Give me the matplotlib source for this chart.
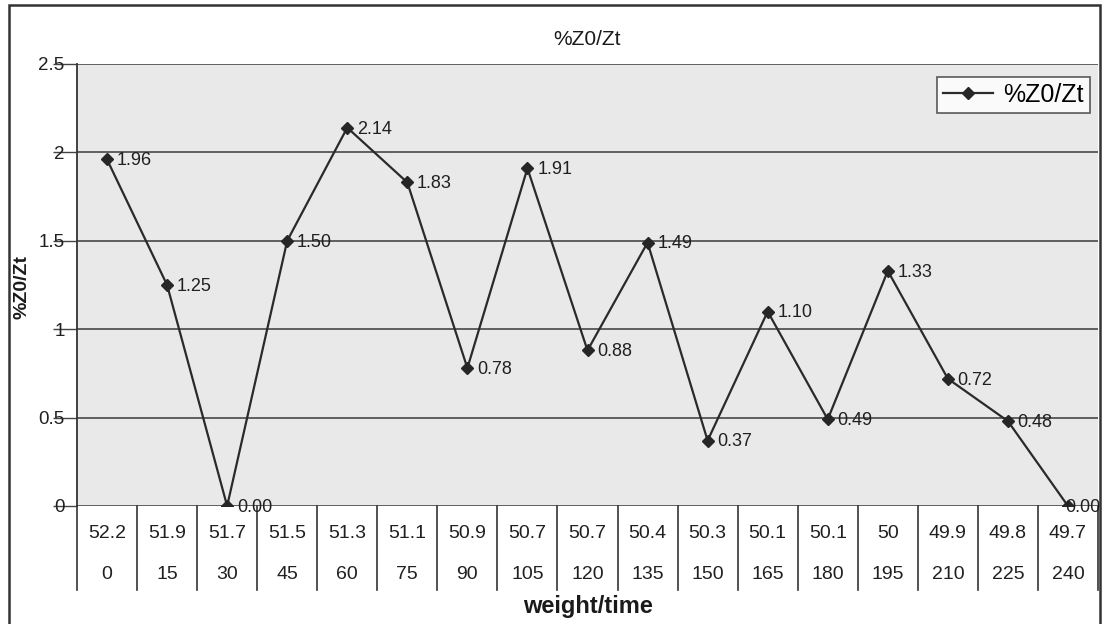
import matplotlib
matplotlib.use("Agg")
import matplotlib.pyplot as plt
import matplotlib.transforms as mtransforms
from matplotlib.patches import Rectangle
import numpy as np

# Datos
weights = ['52.2', '51.9', '51.7', '51.5', '51.3', '51.1', '50.9', '50.7', '50.7',
           '50.4', '50.3', '50.1', '50.1', '50', '49.9', '49.8', '49.7']
times = ['0', '15', '30', '45', '60', '75', '90', '105', '120',
         '135', '150', '165', '180', '195', '210', '225', '240']
z_ratio = [1.96, 1.25, 0.00, 1.50, 2.14, 1.83, 0.78, 1.91, 0.88,
           1.49, 0.37, 1.10, 0.49, 1.33, 0.72, 0.48, 0.00]

plt.rcParams['font.family'] = ['Liberation Sans', 'DejaVu Sans']

fig = plt.figure(figsize=(11.02, 6.24), dpi=100)
ax = fig.add_axes([77 / 1102, 118 / 624, 1021 / 1102, 442 / 624])
ax.set_facecolor('#e9e9e9')

n = len(z_ratio)
xs = np.arange(n)

# Líneas de cuadrícula horizontales
for yv in np.arange(0, 2.51, 0.5):
    ax.axhline(yv, color='#3a3a3a', lw=1.1, zorder=1)

ax.plot(xs, z_ratio, color='#2a2a2a', lw=1.6, marker='D', markersize=6.5,
        markerfacecolor='#262626', markeredgecolor='#262626', zorder=3,
        label='%Z0/Zt')

# Etiquetas de valores (la última se corre para no salirse del marco)
for xi, v in zip(xs, z_ratio):
    dx = 7 if xi < n - 1 else -2
    ax.annotate(f'{v:.2f}', (xi, v), xytext=(dx, -1), textcoords='offset points',
                ha='left', va='center', fontsize=13, color='#202020', zorder=4,
                annotation_clip=False)

ax.set_xlim(-0.5, n - 0.5)
ax.set_ylim(0, 2.5)
ax.set_yticks(np.arange(0, 2.51, 0.5))
ax.set_yticklabels(['0', '0.5', '1', '1.5', '2', '2.5'])
ax.tick_params(axis='y', length=17, width=1, color='#444444', pad=-8,
               labelsize=13.5, labelcolor='#202020')
ax.set_xticks([])

for side in ['top', 'right', 'bottom']:
    ax.spines[side].set_visible(False)
ax.spines['left'].set_color('#333333')
ax.spines['left'].set_linewidth(1.3)

# Tabla de categorías (peso / tiempo) bajo el eje
trans = mtransforms.blended_transform_factory(ax.transData, ax.transAxes)
for b in np.arange(-0.5, n, 1.0):
    ax.plot([b, b], [0, -0.19], transform=trans, color='#333333', lw=1.2,
            clip_on=False, zorder=2)
for xi in xs:
    ax.text(xi, -0.063, weights[xi], transform=trans, ha='center', va='center',
            fontsize=14, color='#202020')
    ax.text(xi, -0.155, times[xi], transform=trans, ha='center', va='center',
            fontsize=14, color='#202020')

ax.set_title('%Z0/Zt', fontsize=15, color='#1a1a1a', pad=14)
fig.text(588 / 1102, 1 - 607 / 624, 'weight/time', ha='center', va='center',
         fontsize=17, fontweight='bold', color='#1a1a1a')
fig.text(22 / 1102, 1 - 287 / 624, '%Z0/Zt', ha='center', va='center',
         rotation=90, fontsize=14, fontweight='bold', color='#1a1a1a')

leg = ax.legend(loc='upper right', bbox_to_anchor=(1.004, 1.0), fontsize=18,
                frameon=True, fancybox=False, handlelength=2.0,
                borderpad=0.25, handletextpad=0.4)
leg.get_frame().set_edgecolor('#333333')
leg.get_frame().set_linewidth(1.2)
leg.get_frame().set_facecolor('white')

# Marco exterior del gráfico
fig.patches.append(Rectangle((9 / 1102, -0.02), 1091 / 1102, 1.012,
                             transform=fig.transFigure, fill=False,
                             edgecolor='#333333', lw=1.8))

fig.savefig('out.png', dpi=100)
